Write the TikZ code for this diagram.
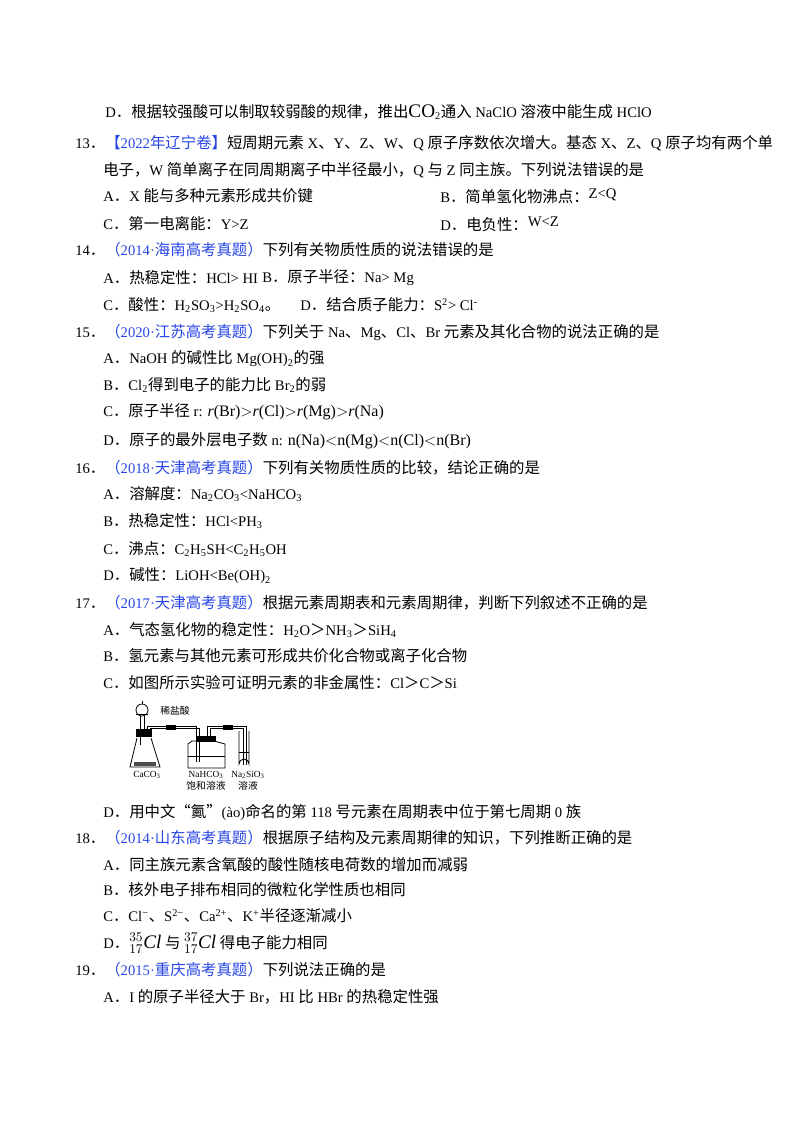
\documentclass[tikz,border=0pt]{standalone}
\usepackage{fontspec}
\setmainfont{Liberation Serif}
\newfontfamily\cjk[Scale=1.05]{Noto Sans CJK SC}
\XeTeXinterchartokenstate=1
\newXeTeXintercharclass\CJKcls
\count255="3000
\loop \XeTeXcharclass\count255=\CJKcls \ifnum\count255<"9FFF \advance\count255 1 \repeat
\count255="FF00
\loop \XeTeXcharclass\count255=\CJKcls \ifnum\count255<"FFEF \advance\count255 1 \repeat
\XeTeXcharclass"201C=\CJKcls \XeTeXcharclass"201D=\CJKcls
\XeTeXinterchartoks 0 \CJKcls = {\begingroup\cjk}
\XeTeXinterchartoks 4095 \CJKcls = {\begingroup\cjk}
\XeTeXinterchartoks \CJKcls 0 = {\endgroup}
\XeTeXinterchartoks \CJKcls 4095 = {\endgroup}
\definecolor{qblue}{RGB}{40,70,230}
\newcommand\sbb[1]{\textsubscript{#1}}
\newcommand\spp[1]{\textsuperscript{#1}}
\begin{document}
\begin{tikzpicture}[x=0.75pt,y=-0.75pt,
  tx/.style={anchor=west,inner sep=0pt,font=\fontsize{11}{12}\selectfont},
  sm/.style={inner sep=0pt,font=\fontsize{7}{8}\selectfont},
  glass/.style={draw=black,line width=0.6pt}]
\useasboundingbox[fill=white] (0,0) rectangle (800,1132);
\node[tx] (l1) at (105,112) {D．根据较强酸可以制取较弱酸的规律，推出{\Large CO}\sbb{2}通入 NaClO 溶液中能生成 HClO};
\node[tx] (l2) at (75,143) {13．{\color{qblue}【2022年辽宁卷】}短周期元素 X、Y、Z、W、Q 原子序数依次增大。基态 X、Z、Q 原子均有两个单};
\node[tx] (l3) at (103,170) {电子，W 简单离子在同周期离子中半径最小，Q 与 Z 同主族。下列说法错误的是};
\node[tx] (l4a) at (103,196) {A．X 能与多种元素形成共价键};
\node[tx] (l4b) at (440,196) {B．简单氢化物沸点：\raisebox{3pt}{Z<Q}};
\node[tx] (l5a) at (103,224) {C．第一电离能：Y>Z};
\node[tx] (l5b) at (440,224) {D．电负性：\raisebox{3pt}{W<Z}};
\node[tx] (l6) at (75,250) {14．{\color{qblue}（2014·海南高考真题）}下列有关物质性质的说法错误的是};
\node[tx] (l7a) at (103,278) {A．热稳定性：HCl> HI};
\node[tx] (l7b) at (262,278) {B．原子半径：Na> Mg};
\node[tx] (l8a) at (103,305) {C．酸性：H\sbb{2}SO\sbb{3}>H\sbb{2}SO\sbb{4}。};
\node[tx] (l8b) at (300,305) {D．结合质子能力：S\spp{2}> Cl\spp{-}};
\node[tx] (l9) at (75,332) {15．{\color{qblue}（2020·江苏高考真题）}下列关于 Na、Mg、Cl、Br 元素及其化合物的说法正确的是};
\node[tx] (l10) at (103,359) {A．NaOH 的碱性比 Mg(OH)\sbb{2}的强};
\node[tx] (l11) at (103,385) {B．Cl\sbb{2}得到电子的能力比 Br\sbb{2}的弱};
\node[tx] (l12) at (103,412) {C．原子半径 r:  {\large\textit{r}(Br)$>$\textit{r}(Cl)$>$\textit{r}(Mg)$>$\textit{r}(Na)}};
\node[tx] (l13) at (103,441) {D．原子的最外层电子数 n:  {\large n(Na)$<$n(Mg)$<$n(Cl)$<$n(Br)}};
\node[tx] (l14) at (75,468) {16．{\color{qblue}（2018·天津高考真题）}下列有关物质性质的比较，结论正确的是};
\node[tx] (l15) at (103,494) {A．溶解度：Na\sbb{2}CO\sbb{3}<NaHCO\sbb{3}};
\node[tx] (l16) at (103,521) {B．热稳定性：HCl<PH\sbb{3}};
\node[tx] (l17) at (103,549) {C．沸点：C\sbb{2}H\sbb{5}SH<C\sbb{2}H\sbb{5}OH};
\node[tx] (l18) at (103,576) {D．碱性：LiOH<Be(OH)\sbb{2}};
\node[tx] (l19) at (75,603) {17．{\color{qblue}（2017·天津高考真题）}根据元素周期表和元素周期律，判断下列叙述不正确的是};
\node[tx] (l20) at (103,630) {A．气态氢化物的稳定性：H\sbb{2}O＞NH\sbb{3}＞SiH\sbb{4}};
\node[tx] (l21) at (103,656) {B．氢元素与其他元素可形成共价化合物或离子化合物};
\node[tx] (l22) at (103,683) {C．如图所示实验可证明元素的非金属性：Cl＞C＞Si};
% apparatus
\draw[glass] (142,710) circle (6);
\draw[glass] (142,701) -- (142,704);
\draw[glass] (136,714) -- (148,714);
\draw[glass] (140,716) -- (140,745) (144,716) -- (144,730);
\draw[glass] (137,738) -- (130,767) -- (160,767) -- (151,738);
\fill (136,729) rectangle (152,737);
\fill[black!70] (134,762) rectangle (156,766);
\node[sm,anchor=west] (hcl) at (160,711) {稀盐酸};
\draw[glass] (147,729) -- (147,726) -- (196,726) -- (196,762);
\draw[glass] (150,729) -- (150,728.5) -- (199,728.5) -- (199,762);
\fill (166,725) rectangle (176,730);
\draw[glass] (188,744) -- (192,741) -- (214,741) -- (225,744) -- (225,768) -- (188,768) -- cycle;
\draw[glass] (188,756) -- (225,756);
\fill (196,736) rectangle (216,742);
\draw[glass] (207,736) -- (207,726) -- (246,726) -- (246,765);
\draw[glass] (210,736) -- (210,728.5) -- (243,728.5) -- (243,765);
\fill (223,725) rectangle (233,730);
\draw[glass] (239,731) -- (239,764) arc[start angle=180,end angle=360,radius=5] -- (249,731);
\draw[glass] (239,752) -- (249,752);
\node[sm] (caco) at (147,775) {CaCO\sbb{3}};
\node[sm] (nah) at (206,775) {NaHCO\sbb{3}};
\node[sm] (bao) at (206,786) {饱和溶液};
\node[sm] (nas) at (248,775) {Na\sbb{2}SiO\sbb{3}};
\node[sm] (ry) at (248,786) {溶液};
\node[tx] (l23) at (103,812) {D．用中文“鿫”(ào)命名的第 118 号元素在周期表中位于第七周期 0 族};
\node[tx] (l24) at (75,838) {18．{\color{qblue}（2014·山东高考真题）}根据原子结构及元素周期律的知识，下列推断正确的是};
\node[tx] (l25) at (103,865) {A．同主族元素含氧酸的酸性随核电荷数的增加而减弱};
\node[tx] (l26) at (103,890) {B．核外电子排布相同的微粒化学性质也相同};
\node[tx] (l27) at (103,916) {C．Cl\spp{−}、S\spp{2−}、Ca\spp{2+}、K\spp{+}半径逐渐减小};
\node[tx] (l28) at (103,943) {D．{\Large${}^{35}_{17}\mathit{Cl}$} 与 {\Large${}^{37}_{17}\mathit{Cl}$} 得电子能力相同};
\node[tx] (l29) at (75,970) {19．{\color{qblue}（2015·重庆高考真题）}下列说法正确的是};
\node[tx] (l30) at (103,997) {A．I 的原子半径大于 Br，HI 比 HBr 的热稳定性强};
\end{tikzpicture}
\end{document}
